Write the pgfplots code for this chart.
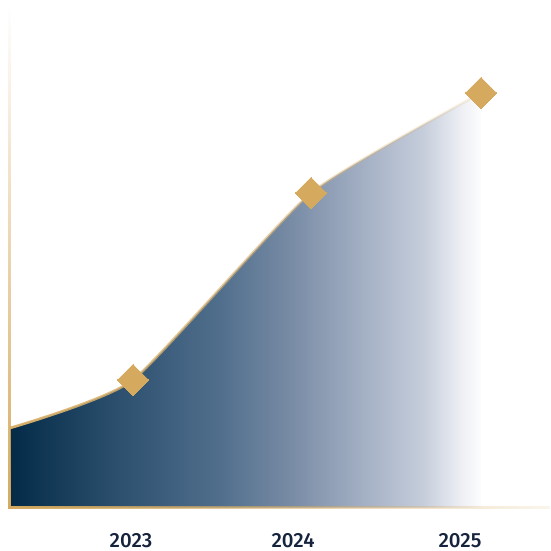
\documentclass[border=0pt]{standalone}
\usepackage{pgfplots}
\pgfplotsset{compat=1.18}
\usetikzlibrary{fadings}
\usepackage{fontspec}
\setmainfont{Fira Sans}[UprightFont={* Medium}]

\definecolor{gold}{HTML}{D5AA5F}
\definecolor{linegold}{HTML}{D9B06A}
\definecolor{labelc}{HTML}{15233D}
\definecolor{g0}{HTML}{032B48}
\definecolor{g1}{HTML}{2A4E6C}
\definecolor{g2}{HTML}{4F6E8C}
\definecolor{g3}{HTML}{7589A3}
\definecolor{g4}{HTML}{9EABC0}
\definecolor{g5}{HTML}{C5CDDB}
\definecolor{g6}{HTML}{EEF0F5}
\definecolor{g7}{HTML}{FDFDFE}

% area gradient, stops between 25bp and 75bp span the path
\pgfdeclarehorizontalshading{areashade}{100bp}{%
  color(0bp)=(g0); color(25bp)=(g0);
  color(35.9bp)=(g1); color(47bp)=(g2); color(54.2bp)=(g3);
  color(61.5bp)=(g4); color(68.8bp)=(g5); color(73bp)=(g6);
  color(75bp)=(g7); color(100bp)=(g7)}

\tikzfading[name=fadecurve, left color=transparent!0, right color=transparent!85]
\tikzfading[name=fadebottom, left color=transparent!0, middle color=transparent!25, right color=transparent!88]
\tikzfading[name=fadeup, bottom color=transparent!0, top color=transparent!100]

\begin{document}
\begin{tikzpicture}
\begin{axis}[
    scale only axis,
    width=550pt, height=507.5pt,
    xmin=0, xmax=550,
    ymin=43.5, ymax=551,
    axis line style={draw=none},
    major tick style={draw=none},
    ytick=\empty,
    xtick={131,293,460},
    xticklabels={2023,2024,2025},
    xticklabel style={anchor=base, yshift=-39.5pt, font=\fontsize{20.5}{21}\selectfont, text=labelc},
    clip=true,
  ]
  % shaded area under the curve
  \addplot[draw=none, smooth, tension=0.3, shading=areashade] coordinates {
    (10,123) (133,171) (311,358) (481,458)
  } \closedcycle;
  % curve
  \addplot[linegold, line width=2.6pt, smooth, tension=0.3, path fading=fadecurve] coordinates {
    (10,123) (133,171) (311,358) (481,458)
  };
  % markers
  \addplot[gold, only marks, mark=square*, mark size=11pt,
    mark options={rotate=45, fill=gold, draw=gold, line width=0pt}] coordinates {
    (133,171) (311,358) (481,458)
  };
\end{axis}
% axis lines
\fill[gold, path fading=fadeup] (8pt,0pt) rectangle (11pt,502pt);
\fill[gold, path fading=fadebottom] (8pt,-1.5pt) rectangle (550pt,1.5pt);
\pgfresetboundingbox
\path (0pt,-43.5pt) rectangle (550pt,507.5pt);
\end{tikzpicture}
\end{document}
